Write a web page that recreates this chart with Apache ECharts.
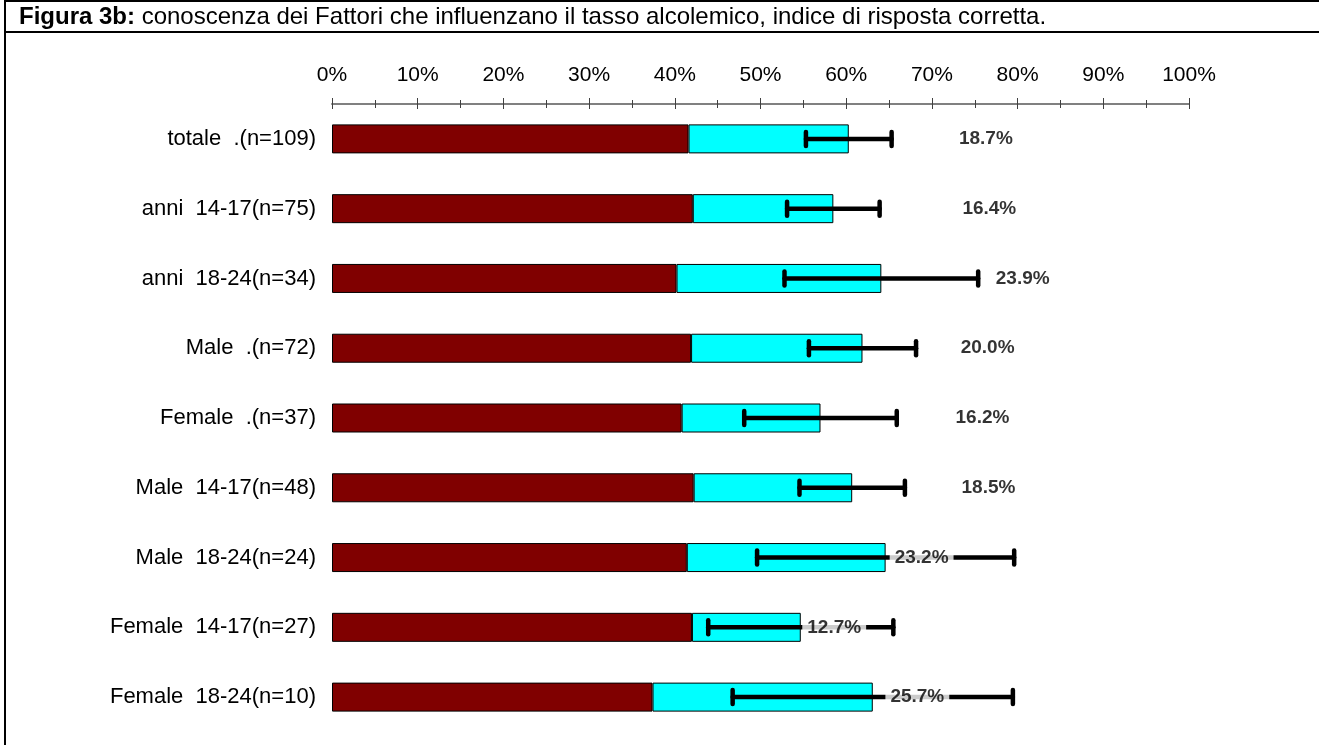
<!DOCTYPE html>
<html>
<head>
<meta charset="utf-8">
<script src="https://cdn.jsdelivr.net/npm/echarts@6/dist/echarts.min.js"></script>
<style>
  html, body { margin: 0; padding: 0; background: #fff; }
  #main { width: 1319px; height: 745px; }
</style>
</head>
<body>
<div id="main"></div>
<script>
// categorie (dall'alto verso il basso)
var categories = ['totale  .(n=109)', 'anni  14-17(n=75)', 'anni  18-24(n=34)', 'Male  .(n=72)',
    'Female  .(n=37)', 'Male  14-17(n=48)', 'Male  18-24(n=24)', 'Female  14-17(n=27)', 'Female  18-24(n=10)'];
// parte scura e parte "risposta corretta" (ciano), in %
var baseValues = [41.6, 42.1, 40.2, 41.9, 40.8, 42.2, 41.4, 42.0, 37.4];
var correctValues = [18.7, 16.4, 23.9, 20.0, 16.2, 18.5, 23.2, 12.7, 25.7];
// semi-ampiezza della barra d'errore, in %
var errorValues = [5.0, 5.4, 11.3, 6.25, 8.9, 6.15, 15.0, 10.8, 16.35];
// dove stanno le etichette sull'asse (in %)
var labelAt = [76.3, 76.7, 80.6, 76.5, 75.9, 76.6, 68.8, 58.6, 68.3];
var tickLabels = ['0%', '10%', '20%', '30%', '40%', '50%', '60%', '70%', '80%', '90%', '100%'];

var FONT = '"Liberation Sans", Arial, sans-serif';

var errData = [];
var labelData = [];
for (var i = 0; i < categories.length; i++) {
    var tot = baseValues[i] + correctValues[i];
    errData.push([i, tot - errorValues[i], tot + errorValues[i]]);
    labelData.push([labelAt[i], i, correctValues[i]]);
}

var myChart = echarts.init(document.getElementById('main'));
var option = {
    backgroundColor: '#fff',
    animation: false,
    title: {
        text: '{b|Figura 3b:} conoscenza dei Fattori che influenzano il tasso alcolemico, indice di risposta corretta.',
        left: 19,
        top: 5,
        padding: 0,
        textStyle: {
            fontFamily: FONT,
            fontSize: 24,
            fontWeight: 'normal',
            color: '#000',
            rich: {
                b: { fontFamily: FONT, fontSize: 24, fontWeight: 'bold', color: '#000' }
            }
        }
    },
    graphic: [
        { type: 'rect', silent: true, shape: { x: 5, y: 1, width: 1340, height: 800 },
          style: { fill: 'none', stroke: '#000', lineWidth: 2 } },
        { type: 'line', silent: true, shape: { x1: 5, y1: 32, x2: 1319, y2: 32 },
          style: { stroke: '#000', lineWidth: 2 } }
    ],
    grid: { left: 332, right: 130, top: 104, bottom: 13, containLabel: false },
    xAxis: [{
        type: 'value',
        position: 'top',
        min: 0, max: 100, interval: 10,
        axisLine: { show: true, lineStyle: { color: '#808080', width: 2 } },
        axisTick: { show: true, length: 6, lineStyle: { color: '#404040' } },
        minorTick: { show: true, splitNumber: 2, length: 4, lineStyle: { color: '#404040' } },
        splitLine: { show: false },
        axisLabel: {
            margin: 18, fontFamily: FONT, fontSize: 21, color: '#000',
            formatter: function (v) { return tickLabels[Math.round(v / 10)]; }
        }
    }, {
        type: 'value',
        position: 'top',
        min: 0, max: 100, interval: 10,
        axisLine: { show: false },
        axisTick: { show: true, inside: true, length: 5, lineStyle: { color: '#404040' } },
        minorTick: { show: true, splitNumber: 2, length: 4, lineStyle: { color: '#404040' } },
        splitLine: { show: false },
        axisLabel: { show: false }
    }],
    yAxis: {
        type: 'category',
        data: categories,
        inverse: true,
        axisLine: { show: false },
        axisTick: { show: false },
        axisLabel: { margin: 16, fontFamily: FONT, fontSize: 22, color: '#000' }
    },
    series: [{
        name: 'base',
        type: 'bar',
        stack: 'tot',
        barWidth: 29,
        data: baseValues,
        itemStyle: { color: '#800000', borderColor: '#000', borderWidth: 1 },
        z: 2
    }, {
        name: 'corretta',
        type: 'bar',
        stack: 'tot',
        barWidth: 29,
        data: correctValues,
        itemStyle: { color: '#00ffff', borderColor: '#000', borderWidth: 1 },
        z: 2
    }, {
        name: 'errore',
        type: 'custom',
        data: errData,
        encode: { x: [1, 2], y: 0 },
        z: 3,
        renderItem: function (params, api) {
            var lo = api.coord([api.value(1), api.value(0)]);
            var hi = api.coord([api.value(2), api.value(0)]);
            var st = { stroke: '#000', lineWidth: 4.5, lineCap: 'round' };
            return {
                type: 'group',
                children: [
                    { type: 'line', shape: { x1: lo[0], y1: lo[1], x2: hi[0], y2: hi[1] }, style: st },
                    { type: 'line', shape: { x1: lo[0], y1: lo[1] - 7, x2: lo[0], y2: lo[1] + 7 }, style: st },
                    { type: 'line', shape: { x1: hi[0], y1: hi[1] - 7, x2: hi[0], y2: hi[1] + 7 }, style: st }
                ]
            };
        }
    }, {
        name: 'etichette',
        type: 'scatter',
        data: labelData,
        symbolSize: 0,
        z: 5,
        label: {
            show: true,
            position: 'inside',
            fontFamily: FONT,
            fontSize: 19,
            fontWeight: 'bold',
            color: '#000',
            backgroundColor: '#fff',
            padding: [1, 5],
            formatter: function (p) { return p.value[2].toFixed(1) + '%'; }
        }
    }]
};
myChart.setOption(option);
</script>
</body>
</html>
